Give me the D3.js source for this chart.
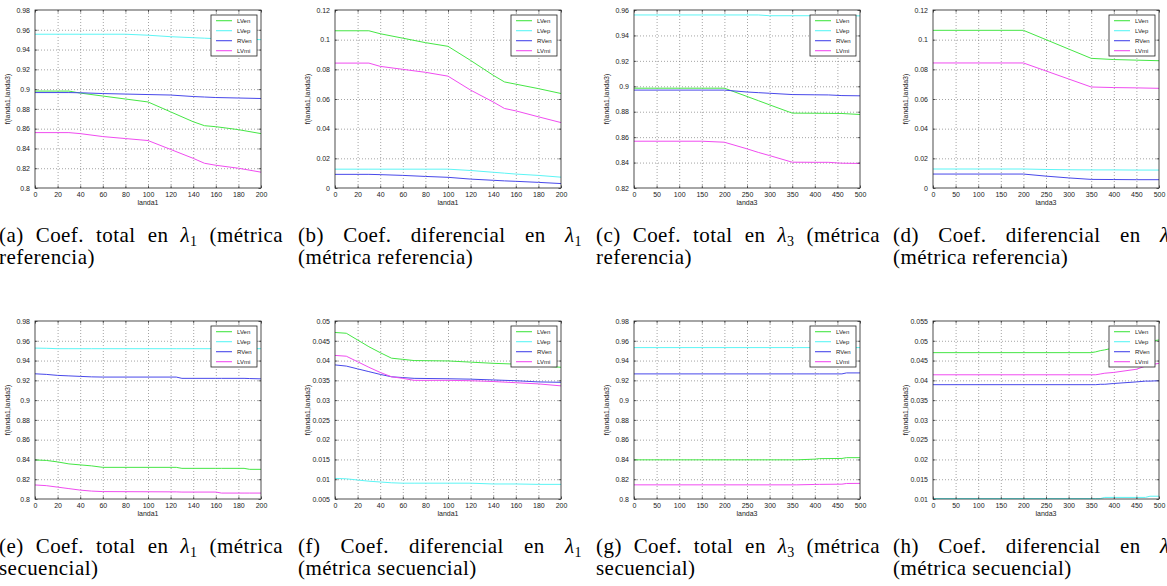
<!DOCTYPE html>
<html>
<head>
<meta charset="utf-8">
<script src="https://cdn.jsdelivr.net/npm/d3@7/dist/d3.min.js"></script>
<style>
body{margin:0;background:#fff;}
svg{display:block;}
</style>
</head>
<body>
<script>
//series
const seriesNames=["LVen","LVep","RVen","LVmi"]
const seriesColors=["#45e645","#5cf5f5","#4848ea","#f04cf0"]

//tick labels
const xTicksL1=[0,20,40,60,80,100,120,140,160,180,200]
const xTicksL3=[0,50,100,150,200,250,300,350,400,450,500]
const yTicksTotA=[0.8,0.82,0.84,0.86,0.88,0.9,0.92,0.94,0.96,0.98]
const yTicksTotC=[0.82,0.84,0.86,0.88,0.9,0.92,0.94,0.96]
const yTicksDif=[0,0.02,0.04,0.06,0.08,0.1,0.12]
const yTicksDifF=[0.005,0.01,0.015,0.02,0.025,0.03,0.035,0.04,0.045,0.05]
const yTicksDifH=[0.01,0.015,0.02,0.025,0.03,0.035,0.04,0.045,0.05,0.055]

//(a) total lambda1, referencia
const xA=[0,30,40,60,80,100,120,140,150,160,180,200]
const aLVen=[0.898,0.898,0.896,0.893,0.890,0.887,0.877,0.867,0.863,0.862,0.859,0.855]
const aLVep=[0.9555,0.9555,0.9555,0.9555,0.9555,0.9545,0.953,0.952,0.9515,0.951,0.9505,0.950]
const aRVen=[0.8965,0.8965,0.8963,0.8955,0.895,0.8945,0.894,0.8925,0.892,0.8915,0.891,0.8905]
const aLVmi=[0.856,0.856,0.855,0.852,0.850,0.848,0.839,0.830,0.825,0.823,0.820,0.816]

//(b) diferencial lambda1, referencia
const xB=[0,30,40,60,80,100,120,140,150,160,180,200]
const bLVen=[0.106,0.106,0.104,0.101,0.098,0.0955,0.086,0.076,0.0715,0.070,0.067,0.0637]
const bLVep=[0.0127,0.0127,0.0127,0.0127,0.0127,0.0127,0.0118,0.0106,0.0100,0.0094,0.0085,0.0073]
const bRVen=[0.0092,0.0092,0.0090,0.0085,0.0078,0.0072,0.006,0.0052,0.0048,0.0045,0.0038,0.003]
const bLVmi=[0.0842,0.0842,0.082,0.080,0.078,0.0754,0.066,0.058,0.0536,0.052,0.048,0.0441]

//(c) total lambda3, referencia
const xC=[0,150,200,250,275,300,350,400,430,460,500]
const cLVen=[0.8985,0.8985,0.8985,0.892,0.8887,0.8854,0.8789,0.8788,0.8787,0.8786,0.8778]
const cLVep=[0.9561,0.9561,0.9561,0.9561,0.9561,0.9555,0.9555,0.9555,0.9555,0.9555,0.9554]
const cRVen=[0.897,0.897,0.897,0.8955,0.895,0.8945,0.8935,0.8933,0.8932,0.8927,0.8925]
const cLVmi=[0.8568,0.8568,0.856,0.8508,0.848,0.8455,0.8403,0.8402,0.8402,0.8395,0.8393]

//(d) diferencial lambda3, referencia
const xD=[0,200,250,300,350,400,450,500]
const dLVen=[0.1063,0.1063,0.1000,0.0937,0.0874,0.0866,0.0862,0.0858]
const dLVep=[0.0128,0.0128,0.0125,0.0123,0.0122,0.0122,0.0121,0.0121]
const dRVen=[0.0094,0.0094,0.0080,0.0068,0.0058,0.0057,0.0056,0.0056]
const dLVmi=[0.0843,0.0843,0.0789,0.0735,0.0681,0.0677,0.0675,0.0672]

//(e) total lambda1, secuencial
const xE=[0,10,20,30,40,50,60,125,130,160,165,185,190,200]
const eLVen=[0.8395,0.839,0.8375,0.8355,0.8345,0.8335,0.832,0.832,0.831,0.831,0.831,0.831,0.830,0.830]
const eLVep=[0.9526,0.9524,0.952,0.952,0.952,0.952,0.952,0.952,0.952,0.952,0.952,0.952,0.952,0.952]
const eRVen=[0.9266,0.926,0.925,0.9245,0.924,0.9235,0.9233,0.9233,0.922,0.922,0.922,0.922,0.9218,0.9215]
const eLVmi=[0.8142,0.8135,0.812,0.8105,0.809,0.808,0.8075,0.8072,0.807,0.807,0.806,0.806,0.806,0.806]

//(f) diferencial lambda1, secuencial
const xF=[0,10,20,30,40,50,60,70,100,120,140,160,180,200]
const fLVen=[0.0471,0.0469,0.0452,0.0435,0.042,0.0406,0.0403,0.040,0.0399,0.0396,0.0393,0.0391,0.0387,0.0383]
const fLVep=[0.0102,0.0101,0.0098,0.0095,0.0093,0.0091,0.009,0.009,0.009,0.009,0.0088,0.0088,0.0087,0.0087]
const fRVen=[0.0389,0.0386,0.0379,0.0372,0.0365,0.0359,0.0357,0.0355,0.0354,0.0353,0.0351,0.0349,0.0346,0.0345]
const fLVmi=[0.0413,0.0411,0.0397,0.0383,0.037,0.0359,0.0355,0.035,0.035,0.0349,0.0347,0.0344,0.0341,0.0336]

//(g) total lambda3, secuencial
const xG=[0,360,400,410,460,470,500]
const gLVen=[0.8396,0.8396,0.8403,0.8408,0.841,0.8418,0.8418]
const gLVep=[0.9531,0.9531,0.9531,0.9531,0.9531,0.9531,0.9531]
const gRVen=[0.9265,0.9265,0.9265,0.9265,0.9265,0.9275,0.9275]
const gLVmi=[0.8143,0.8143,0.8147,0.8148,0.815,0.8157,0.8158]

//(h) diferencial lambda3, secuencial
const xH=[0,350,360,370,380,400,450,470,480,500]
const hLVen=[0.047,0.047,0.0472,0.0475,0.0477,0.0482,0.0493,0.0497,0.0499,0.0502]
const hLVep=[0.0101,0.0101,0.0101,0.0101,0.0104,0.0104,0.0104,0.0104,0.0107,0.0107]
const hRVen=[0.0389,0.0389,0.0389,0.039,0.039,0.0392,0.0396,0.0398,0.0398,0.0399]
const hLVmi=[0.0414,0.0414,0.0414,0.0416,0.0418,0.042,0.0428,0.0436,0.0439,0.0443]

//captions
const capA=[["(a)","Coef.","total","en","λ1","(métrica"],"referencia)"]
const capB=[["(b)","Coef.","diferencial","en","λ1"],"(métrica referencia)"]
const capC=[["(c)","Coef.","total","en","λ3","(métrica"],"referencia)"]
const capD=[["(d)","Coef.","diferencial","en","λ3"],"(métrica referencia)"]
const capE=[["(e)","Coef.","total","en","λ1","(métrica"],"secuencial)"]
const capF=[["(f)","Coef.","diferencial","en","λ1"],"(métrica secuencial)"]
const capG=[["(g)","Coef.","total","en","λ3","(métrica"],"secuencial)"]
const capH=[["(h)","Coef.","diferencial","en","λ3"],"(métrica secuencial)"]

const panels=[
  {col:0,row:0,x:xA,ys:[aLVen,aLVep,aRVen,aLVmi],xt:xTicksL1,yt:yTicksTotA,xl:"landa1",cap:capA},
  {col:1,row:0,x:xB,ys:[bLVen,bLVep,bRVen,bLVmi],xt:xTicksL1,yt:yTicksDif,xl:"landa1",cap:capB},
  {col:2,row:0,x:xC,ys:[cLVen,cLVep,cRVen,cLVmi],xt:xTicksL3,yt:yTicksTotC,xl:"landa3",cap:capC},
  {col:3,row:0,x:xD,ys:[dLVen,dLVep,dRVen,dLVmi],xt:xTicksL3,yt:yTicksDif,xl:"landa3",cap:capD},
  {col:0,row:1,x:xE,ys:[eLVen,eLVep,eRVen,eLVmi],xt:xTicksL1,yt:yTicksTotA,xl:"landa1",cap:capE},
  {col:1,row:1,x:xF,ys:[fLVen,fLVep,fRVen,fLVmi],xt:xTicksL1,yt:yTicksDifF,xl:"landa1",cap:capF},
  {col:2,row:1,x:xG,ys:[gLVen,gLVep,gRVen,gLVmi],xt:xTicksL3,yt:yTicksTotA,xl:"landa3",cap:capG},
  {col:3,row:1,x:xH,ys:[hLVen,hLVep,hRVen,hLVmi],xt:xTicksL3,yt:yTicksDifH,xl:"landa3",cap:capH}
]

//layout
const W=1167, H=586
const colX=[35,335,634,933]
const rowY=[10,321]
const pw=226, ph=178
const capX=[-1,298,596,893]
const capW=284
const capBase=[242,553]
const lineGap=22

const svg=d3.select("body").append("svg")
  .attr("width",W).attr("height",H)
  .style("font-family","'Liberation Sans',Arial,sans-serif")

svg.append("rect").attr("width",W).attr("height",H).attr("fill","#fff")

const fmt=d=>String(+d.toFixed(3))

panels.forEach(p=>{
  const x0=colX[p.col], y0=rowY[p.row]
  const xScale=d3.scaleLinear().domain([p.xt[0],p.xt[p.xt.length-1]]).range([0,pw])
  const yScale=d3.scaleLinear().domain([p.yt[0],p.yt[p.yt.length-1]]).range([ph,0])

  const g=svg.append("g").attr("transform","translate("+x0+","+y0+")")

  //grid
  g.selectAll(".vgrid").data(p.xt.slice(1,-1)).enter().append("line")
    .attr("x1",d=>xScale(d)+0.5).attr("x2",d=>xScale(d)+0.5)
    .attr("y1",0).attr("y2",ph)
    .attr("stroke","#666").attr("stroke-width",0.6).attr("stroke-dasharray","1,2")
  g.selectAll(".hgrid").data(p.yt.slice(1,-1)).enter().append("line")
    .attr("y1",d=>yScale(d)+0.5).attr("y2",d=>yScale(d)+0.5)
    .attr("x1",0).attr("x2",pw)
    .attr("stroke","#666").attr("stroke-width",0.6).attr("stroke-dasharray","1,2")

  //series lines
  const line=d3.line().x(d=>xScale(d[0])).y(d=>yScale(d[1]))
  p.ys.forEach((ys,i)=>{
    g.append("path")
      .datum(p.x.map((xv,j)=>[xv,ys[j]]))
      .attr("d",line)
      .attr("fill","none")
      .attr("stroke",seriesColors[i])
      .attr("stroke-width",1)
  })

  //axes (ticks inward, box)
  const tickLen=-2.5
  g.append("g").attr("transform","translate(0,"+ph+")")
    .call(d3.axisBottom(xScale).tickValues(p.xt).tickFormat(d=>d).tickSizeInner(tickLen).tickSizeOuter(0).tickPadding(4))
  g.append("g")
    .call(d3.axisLeft(yScale).tickValues(p.yt).tickFormat(fmt).tickSizeInner(tickLen).tickSizeOuter(0).tickPadding(5))
  g.append("g")
    .call(d3.axisTop(xScale).tickValues(p.xt).tickFormat("").tickSizeInner(tickLen).tickSizeOuter(0))
  g.append("g").attr("transform","translate("+pw+",0)")
    .call(d3.axisRight(yScale).tickValues(p.yt).tickFormat("").tickSizeInner(tickLen).tickSizeOuter(0))
  g.selectAll(".domain").remove()
  g.selectAll(".tick line").attr("stroke","#222").attr("stroke-width",0.7)
  g.selectAll(".tick text").attr("fill","#222").style("font-size","7px")

  g.append("rect").attr("width",pw).attr("height",ph)
    .attr("fill","none").attr("stroke","#222").attr("stroke-width",0.8)

  //axis labels
  g.append("text").attr("x",pw/2).attr("y",ph+17)
    .attr("text-anchor","middle").style("font-size","7px").attr("fill","#222")
    .text(p.xl)
  g.append("text")
    .attr("transform","translate(-25,"+(ph/2)+") rotate(-90)")
    .attr("text-anchor","middle").style("font-size","7px").attr("fill","#222")
    .text("f(landa1,landa3)")

  //legend
  const lw=46, lh=41
  const leg=g.append("g").attr("transform","translate("+(pw-4-lw)+",5)")
  leg.append("rect").attr("width",lw).attr("height",lh)
    .attr("fill","#fff").attr("stroke","#222").attr("stroke-width",0.8)
  const item=leg.selectAll(".item").data(seriesNames).enter().append("g")
    .attr("transform",(d,i)=>"translate(0,"+(5.7+i*10)+")")
  item.append("line").attr("x1",5).attr("x2",21).attr("y1",0).attr("y2",0)
    .attr("stroke",(d,i)=>seriesColors[i]).attr("stroke-width",1.1)
  item.append("text").attr("x",26).attr("y",2.2)
    .style("font-size","6px").attr("fill","#222").text(d=>d)

  //caption, first line justified like LaTeX
  const cx=capX[p.col], cy=capBase[p.row]
  const cap=svg.append("g").style("font-family","'Liberation Serif','Times New Roman',serif")
    .style("font-size","21px").style("letter-spacing","0.45px").attr("fill","#000")
  const words=p.cap[0].map(w=>{
    const t=cap.append("text").attr("y",cy)
    if(w[0]==="λ"){
      t.append("tspan").style("font-style","italic").text("λ")
      t.append("tspan").attr("dy",4).style("font-size","14px").text(w.slice(1))
    }else{
      t.text(w)
    }
    return t
  })
  const widths=words.map(t=>t.node().getComputedTextLength())
  const gap=Math.max(4,(capW-d3.sum(widths))/(words.length-1))
  let pos=cx
  words.forEach((t,i)=>{t.attr("x",pos); pos+=widths[i]+gap})
  cap.append("text").attr("x",cx).attr("y",cy+lineGap).text(p.cap[1])
})
</script>
</body>
</html>
